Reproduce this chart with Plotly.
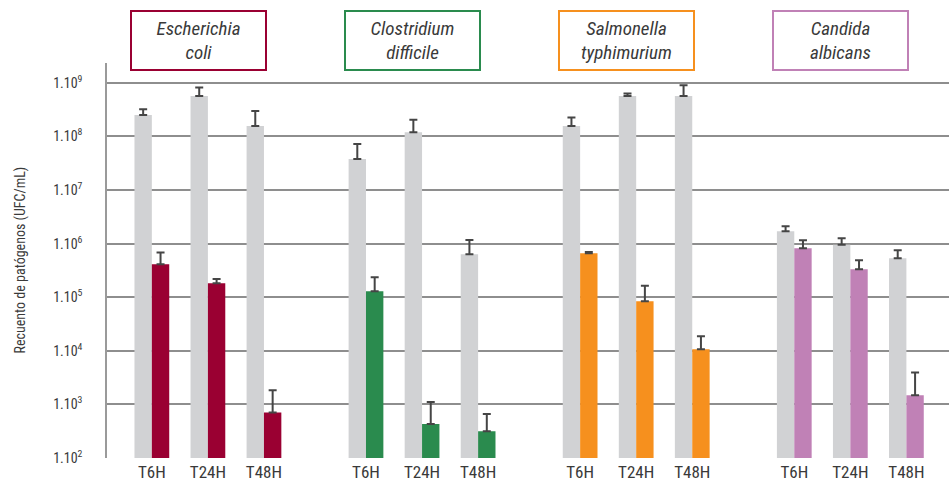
import plotly.graph_objects as go

# ---- data ----
organisms = ["Escherichia<br>coli", "Clostridium<br>difficile", "Salmonella<br>typhimurium", "Candida<br>albicans"]
org_colors = ["#9a0032", "#2a8b4e", "#f6901e", "#c081b6"]
times = ["T6H", "T24H", "T48H"]

# control (grey) counts, UFC/mL, per organism x time
control_vals = [
    [2.5e8, 5.65e8, 1.56e8],
    [3.8e7, 1.2e8, 6.3e5],
    [1.56e8, 5.65e8, 5.65e8],
    [1.71e6, 9.5e5, 5.35e5],
]
control_err_top = [
    [3.2e8, 8.2e8, 2.97e8],
    [7.2e7, 2.04e8, 1.17e6],
    [2.26e8, 6.34e8, 9.06e8],
    [2.11e6, 1.26e6, 7.5e5],
]
# treated (coloured) counts
treated_vals = [
    [4.1e5, 1.82e5, 7.1e2],
    [1.29e5, 4.3e2, 3.15e2],
    [6.6e5, 8.4e4, 1.07e4],
    [8.2e5, 3.33e5, 1.48e3],
]
treated_err_top = [
    [6.8e5, 2.19e5, 1.84e3],
    [2.36e5, 1.11e3, 6.6e2],
    [7.0e5, 1.63e5, 1.87e4],
    [1.16e6, 4.9e5, 3.93e3],
]
ytick_exps = [2, 3, 4, 5, 6, 7, 8, 9]
y_title = "Recuento de patógenos (UFC/mL)"

# ---- layout helpers ----
GROUP_STEP = 3.82
BAR_W = 0.31
FONT = "Roboto Condensed, Liberation Sans Narrow, Arial Narrow, sans-serif"
GREY = "#d1d2d4"
ERR = "#454545"
TXT = "#3a3a3a"

fig = go.Figure()
tickvals, ticktext = [], []
for g, org in enumerate(organisms):
    xs = [g * GROUP_STEP + t for t in range(len(times))]
    tickvals += xs
    ticktext += times
    cv = control_vals[g]
    tv = treated_vals[g]
    fig.add_trace(go.Bar(
        x=xs, y=cv, width=BAR_W, offset=-BAR_W,
        marker=dict(color=GREY, line=dict(width=0)),
        error_y=dict(type="data", symmetric=False,
                     array=[control_err_top[g][i] - cv[i] for i in range(3)],
                     arrayminus=[0, 0, 0], color=ERR, thickness=2, width=4),
        showlegend=False, hoverinfo="y",
    ))
    fig.add_trace(go.Bar(
        x=xs, y=tv, width=BAR_W, offset=0,
        marker=dict(color=org_colors[g], line=dict(width=0)),
        error_y=dict(type="data", symmetric=False,
                     array=[treated_err_top[g][i] - tv[i] for i in range(3)],
                     arrayminus=[0, 0, 0], color=ERR, thickness=2, width=4),
        showlegend=False, hoverinfo="y",
    ))
    name_parts = org.split("<br>")
    fig.add_annotation(
        x=g * GROUP_STEP + 1 - 0.17, xref="x",
        y=1.057, yref="paper", yanchor="middle", xanchor="center",
        text="<br>".join(f"<i>{p}</i>" for p in name_parts),
        showarrow=False,
        font=dict(family=FONT, size=19, color=TXT),
        bordercolor=org_colors[g], borderwidth=2, borderpad=2,
        width=129, height=53, bgcolor="white", align="center",
    )

fig.add_annotation(
    x=-0.1033, xref="paper", y=0.5, yref="paper",
    text=y_title, textangle=-90, showarrow=False,
    xanchor="center", yanchor="middle",
    font=dict(family=FONT, size=14, color=TXT),
)

fig.update_layout(
    width=949, height=489,
    margin=dict(l=107, r=0, t=63, b=31),
    paper_bgcolor="white", plot_bgcolor="white",
    barmode="overlay",
    font=dict(family=FONT, color=TXT),
    xaxis=dict(
        range=[-0.80, 14.22], tickvals=tickvals, ticktext=ticktext,
        showgrid=False, zeroline=False, ticks="",
        showline=False, automargin=False,
        tickfont=dict(family=FONT, size=17, color=TXT),
        ticklabelstandoff=2,
        fixedrange=True,
    ),
    yaxis=dict(
        type="log", range=[2, 9.37],
        tickvals=[10 ** e for e in ytick_exps],
        ticktext=[f"1.10<sup>{e}</sup>" for e in ytick_exps],
        showgrid=True, gridcolor="#8e8e8e", gridwidth=1.5,
        showline=True, linecolor="#9a9a9a", linewidth=1.5,
        ticks="", zeroline=False, automargin=False,
        tickfont=dict(family=FONT, size=14, color=TXT),
        ticklabelstandoff=20,
        fixedrange=True,
    ),
)

fig.write_html(
    "out.html",
    config={"displayModeBar": False},
    post_script="document.body.style.margin='0';document.body.style.overflow='hidden';",
)
